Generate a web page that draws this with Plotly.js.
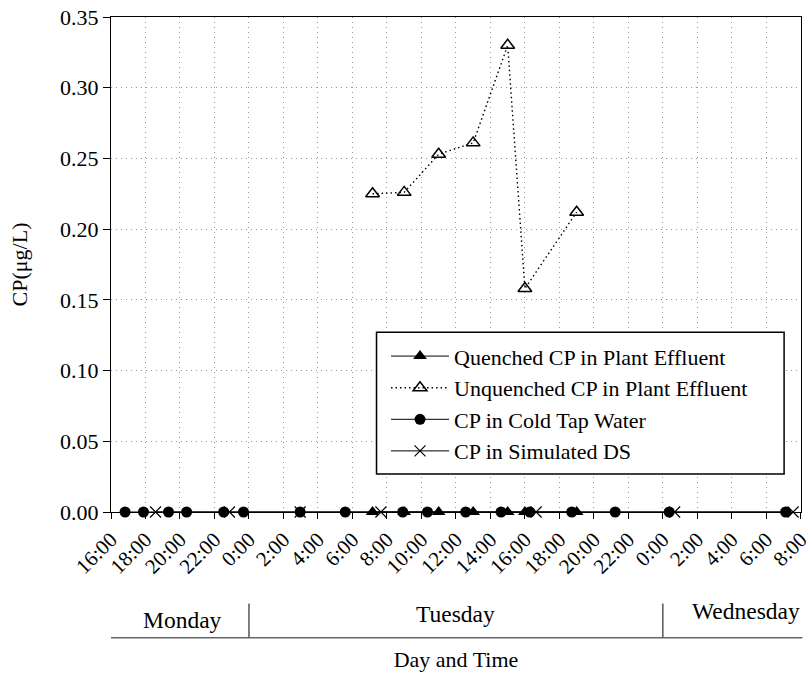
<!DOCTYPE html>
<html>
<head>
<meta charset="utf-8">
<script src="https://cdn.plot.ly/plotly-3.0.1.min.js"></script>
<style>html,body{margin:0;padding:0;background:#fff;}#chart{width:811px;height:682px;}</style>
</head>
<body>
<div id="chart"></div>
<script>
// ---- data ----
const quenchedTimes = ['2024-01-02 07:10','2024-01-02 09:00','2024-01-02 11:00','2024-01-02 13:00','2024-01-02 15:00','2024-01-02 16:00','2024-01-02 19:00'];
const quenchedValues = [0, 0, 0, 0, 0, 0, 0];

const unquenchedTimes = ['2024-01-02 07:10','2024-01-02 09:00','2024-01-02 11:00','2024-01-02 13:00','2024-01-02 15:00','2024-01-02 16:00','2024-01-02 19:00'];
const unquenchedValues = [0.225, 0.226, 0.253, 0.261, 0.330, 0.158, 0.212];

const tapTimes = ['2024-01-01 16:49','2024-01-01 17:53','2024-01-01 19:20','2024-01-01 20:23','2024-01-01 22:32','2024-01-01 23:41',
                  '2024-01-02 02:58','2024-01-02 05:35','2024-01-02 08:55','2024-01-02 10:21','2024-01-02 12:34','2024-01-02 14:37',
                  '2024-01-02 16:17','2024-01-02 18:43','2024-01-02 21:14','2024-01-03 00:22','2024-01-03 07:07'];
const tapValues = [0,0,0,0,0,0,0,0,0,0,0,0,0,0,0,0,0];

const dsTimes = ['2024-01-01 18:35','2024-01-01 22:52','2024-01-02 02:58','2024-01-02 07:39','2024-01-02 16:39','2024-01-03 00:41','2024-01-03 07:33'];
const dsValues = [0,0,0,0,0,0,0];

const seriesNames = ['Quenched CP in Plant Effluent','Unquenched CP in Plant Effluent','CP in Cold Tap Water','CP in Simulated DS'];

const xRange = ['2024-01-01 16:00','2024-01-03 08:00:30'];
const dayNames = ['Monday','Tuesday','Wednesday'];
const dayLabelTimes = ['2024-01-01 20:10','2024-01-02 12:00','2024-01-03 04:50'];
const dayBoundaries = ['2024-01-02 00:00','2024-01-03 00:00'];

const FONT = 'Liberation Serif, Times New Roman, serif';

const traces = [
  {x: quenchedTimes, y: quenchedValues, name: seriesNames[0], mode: 'lines+markers', type: 'scatter', cliponaxis: false,
   line: {color: '#000', width: 1}, marker: {symbol: 'triangle-up', size: 12, color: '#000'}},
  {x: unquenchedTimes, y: unquenchedValues, name: seriesNames[1], mode: 'lines+markers', type: 'scatter', cliponaxis: false,
   line: {color: '#000', width: 1.4, dash: '1.5px,3px'}, marker: {symbol: 'triangle-up-open', size: 12, color: '#000', line: {width: 1.5, color: '#000'}}},
  {x: tapTimes, y: tapValues, name: seriesNames[2], mode: 'lines+markers', type: 'scatter', cliponaxis: false,
   line: {color: '#000', width: 1}, marker: {symbol: 'circle', size: 11, color: '#000'}},
  {x: dsTimes, y: dsValues, name: seriesNames[3], mode: 'lines+markers', type: 'scatter', cliponaxis: false,
   line: {color: '#000', width: 1}, marker: {symbol: 'x-thin-open', size: 11, color: '#000', line: {width: 1.2, color: '#000'}}}
];

const annotations = dayNames.map((d, i) => ({
  text: d, x: dayLabelTimes[i], xref: 'x', y: [-0.218, -0.207, -0.199][i], yref: 'paper',
  showarrow: false, xanchor: 'center', yanchor: 'middle', font: {family: FONT, size: 23.5, color: '#000'}
}));

const shapes = dayBoundaries.map(t => ({
  type: 'line', xref: 'x', yref: 'paper', x0: t, x1: t, y0: -0.185, y1: -0.254, line: {color: '#000', width: 1}
}));
shapes.push({type: 'line', xref: 'paper', yref: 'paper', x0: 0, x1: 1.002, y0: -0.254, y1: -0.254, line: {color: '#666', width: 1.5}});
// legend frame
shapes.push({type: 'rect', xref: 'paper', yref: 'paper', x0: 0.3848, x1: 0.9755, y0: 0.0768, y1: 0.363, layer: 'above',
             fillcolor: '#fff', line: {color: '#000', width: 1.5}});

const layout = {
  width: 811, height: 682,
  margin: {l: 111, r: 10, t: 17, b: 170},
  paper_bgcolor: '#fff', plot_bgcolor: '#fff',
  font: {family: FONT, size: 22, color: '#000'},
  showlegend: true,
  legend: {
    x: 0.3986, y: 0.357, xanchor: 'left', yanchor: 'top',
    borderwidth: 0, bgcolor: 'rgba(0,0,0,0)',
    font: {family: FONT, size: 22, color: '#000'},
    itemwidth: 58, tracegroupgap: 0
  },
  xaxis: {
    type: 'date', range: xRange, autorange: false,
    tick0: '2024-01-01 00:00', dtick: 2 * 3600 * 1000, tickformat: '%-H:%M',
    tickangle: -45, ticks: 'outside', ticklen: 6, tickcolor: '#000', tickwidth: 1,
    ticklabeloverflow: 'allow',
    showline: true, linecolor: '#000', linewidth: 1, mirror: true,
    showgrid: true, gridcolor: '#999', gridwidth: 1, griddash: '1px,4px',
    zeroline: false,
    tickfont: {family: FONT, size: 21, color: '#000'},
    title: {text: 'Day and Time', font: {family: FONT, size: 22, color: '#000'}, standoff: 74},
    automargin: false
  },
  yaxis: {
    range: [0, 0.35], autorange: false, dtick: 0.05, tick0: 0, tickformat: '.2f',
    ticks: 'outside', ticklen: 7, tickcolor: '#000', tickwidth: 1,
    showline: true, linecolor: '#000', linewidth: 1, mirror: true,
    showgrid: true, gridcolor: '#999', gridwidth: 1, griddash: '1px,4px',
    zeroline: false,
    tickfont: {family: FONT, size: 22, color: '#000'},
    title: {text: 'CP(μg/L)', font: {family: FONT, size: 22, color: '#000'}, standoff: 26},
    automargin: false
  },
  annotations: annotations,
  shapes: shapes
};

Plotly.newPlot('chart', traces, layout, {displayModeBar: false, staticPlot: true});
</script>
</body>
</html>
